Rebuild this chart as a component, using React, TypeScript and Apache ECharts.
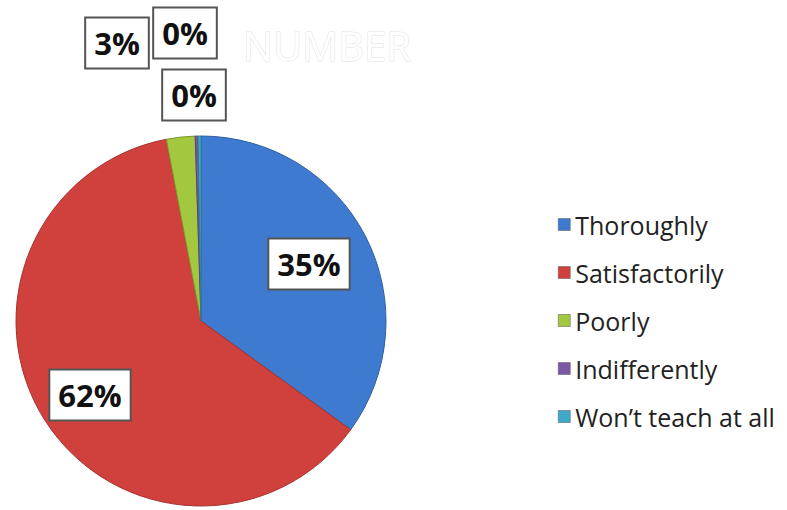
import React, { useEffect, useRef } from "react";
import * as echarts from "echarts";

const categories = ["Thoroughly", "Satisfactorily", "Poorly", "Indifferently", "Won’t teach at all"];
const values = [35, 62, 2.5, 0.25, 0.25];
const colors = ["#3E7BD0", "#D0403C", "#A3C83F", "#7B57A5", "#3FA9C9"];
const borders = ["#2F5E9E", "#A8332F", "#7A962F", "#5A3F7C", "#2F7F96"];
const titleText = "NUMBER";

// label anchor positions (layout only)
const labelPos = [
  [309, 264],
  [90, 395],
  [117, 43],
  [185, 33],
  [194, 95],
];

export default function App() {
  const ref = useRef<HTMLDivElement>(null);
  useEffect(() => {
    if (!ref.current) return;
    const chart = echarts.init(ref.current, null, { renderer: "svg" });
    chart.setOption({
      animation: false,
      backgroundColor: "#ffffff",
      title: {
        text: titleText,
        left: 238,
        top: 20,
        textStyle: {
          fontFamily: "Open Sans",
          fontSize: 40,
          fontWeight: "normal",
          color: "#ffffff",
          textBorderColor: "#e2e2e2",
          textBorderWidth: 1,
        },
      },
      legend: {
        orient: "vertical",
        left: 553,
        top: 207,
        itemWidth: 12,
        itemHeight: 12,
        itemGap: 23,
        icon: "rect",
        data: categories,
        itemStyle: { borderColor: "#555", borderWidth: 0.5 },
        textStyle: {
          fontFamily: "Open Sans",
          fontSize: 25,
          color: "#222222",
          lineHeight: 25,
          padding: [0, 0, 0, 0],
        },
      },
      series: [
        {
          type: "pie",
          center: [201, 321],
          radius: 185,
          startAngle: 90,
          clockwise: true,
          avoidLabelOverlap: false,
          data: categories.map((name, i) => ({
            name,
            value: values[i],
            itemStyle: {
              color: colors[i],
              borderColor: borders[i],
              borderWidth: 1,
            },
          })),
          label: {
            show: true,
            position: "inside",
            formatter: (p: any) => Math.round(p.percent) + "%",
            fontFamily: "Open Sans",
            fontWeight: "bold",
            fontSize: 31,
            color: "#111111",
            backgroundColor: "#ffffff",
            borderColor: "#555555",
            borderWidth: 2,
            padding: [10, 8, 8, 8],
          },
          labelLine: { show: false },
          labelLayout: (params: any) => {
            const pos = labelPos[params.dataIndex];
            return { x: pos[0], y: pos[1], align: "center", verticalAlign: "middle" };
          },
          emphasis: { disabled: true },
        },
      ],
    });
    return () => chart.dispose();
  }, []);
  return <div ref={ref} style={{ width: 787, height: 510, position: "absolute", left: 0, top: 0 }} />;
}
